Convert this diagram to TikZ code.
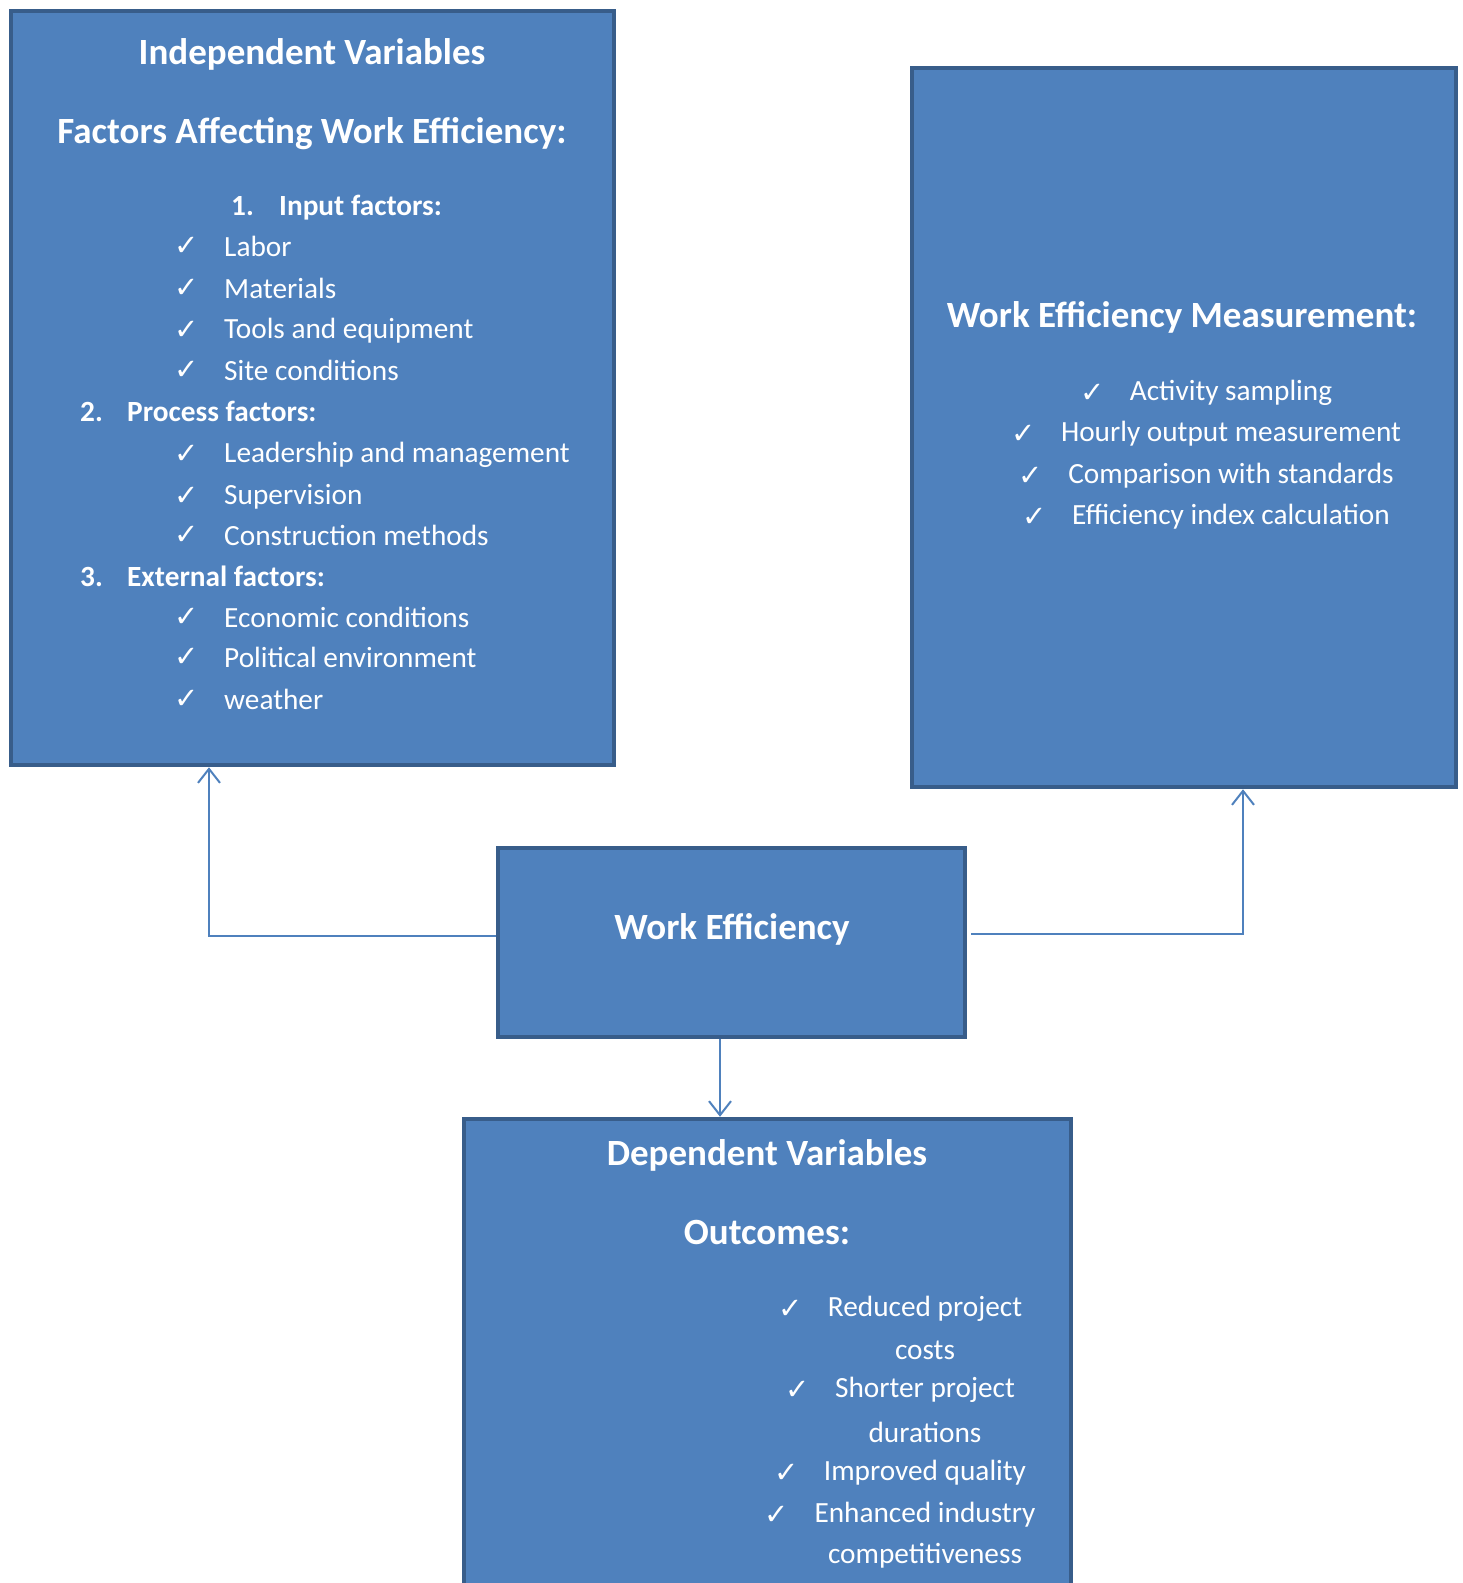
\documentclass[tikz,border=0pt]{standalone}
\usepackage{fontspec}
\setmainfont{Carlito}
\newfontfamily\symfont{DejaVu Sans}
\usepackage{tikz}
\usetikzlibrary{positioning,arrows.meta}

\definecolor{boxfill}{HTML}{4F81BD}
\definecolor{boxline}{HTML}{385D8A}

\tikzset{
  box/.style={draw=boxline, fill=boxfill, line width=4.5pt, inner sep=0pt},
  txt/.style={text=white, font=\fontsize{29.3}{35}\selectfont, inner sep=0pt},
  bold/.style={txt, font=\fontsize{29.3}{35}\selectfont\bfseries},
  head/.style={text=white, font=\fontsize{37}{44}\selectfont\bfseries, inner sep=0pt},
  tick/.style={text=white, font=\symfont\fontsize{29}{34}\selectfont, inner sep=0pt},
  link/.style={draw=boxfill, line width=2pt, -{Straight Barb[length=14pt,width=22pt,line width=2pt]}}
}

\begin{document}
\begin{tikzpicture}[x=1pt,y=-1pt]
  \useasboundingbox (0,0) rectangle (1463,1583);
  \clip (0,0) rectangle (1463,1583);
  % boxes
  \node[box, minimum width=603pt, minimum height=754pt] (indep)   at (312.5,388)  {};
  \node[box, minimum width=544pt, minimum height=719pt] (measure) at (1184,427.5) {};
  \node[box, minimum width=467pt, minimum height=189pt] (effic)   at (731.5,942.5) {};
  \node[box, minimum width=607pt, minimum height=520pt] (outcome) at (767.5,1379) {};

  % independent variables
  \node[head] (indep_t) at (312,54) {Independent Variables};
  \node[head] (indep_f) at (312,134) {Factors Affecting Work Efficiency:};
  \node[bold, anchor=mid west] (n_1) at (231,213) {1.};
  \node[bold, anchor=mid west] (input) at (279,213) {Input factors:};
  \node[txt, anchor=mid west] (labor) at (224,254) {Labor};
  \node[txt, anchor=mid west] (mat)   at (224,296) {Materials};
  \node[txt, anchor=mid west] (tools) at (224,336) {Tools and equipment};
  \node[txt, anchor=mid west] (site)  at (224,378) {Site conditions};
  \node[bold, anchor=mid west] (n_2) at (80,419) {2.};
  \node[bold, anchor=mid west] (process) at (127,419) {Process factors:};
  \node[txt, anchor=mid west] (lead)  at (224,460) {Leadership and management};
  \node[txt, anchor=mid west] (superv) at (224,502) {Supervision};
  \node[txt, anchor=mid west] (constr) at (224,543) {Construction methods};
  \node[bold, anchor=mid west] (n_3) at (80,584) {3.};
  \node[bold, anchor=mid west] (extern) at (127,584) {External factors:};
  \node[txt, anchor=mid west] (econ)  at (224,625) {Economic conditions};
  \node[txt, anchor=mid west] (polit) at (224,665) {Political environment};
  \node[txt, anchor=mid west] (weath) at (224,707) {weather};
  \node[tick, left=25pt of labor] {✓};
  \node[tick, left=25pt of mat] {✓};
  \node[tick, left=25pt of tools] {✓};
  \node[tick, left=25pt of site] {✓};
  \node[tick, left=25pt of lead] {✓};
  \node[tick, left=25pt of superv] {✓};
  \node[tick, left=25pt of constr] {✓};
  \node[tick, left=25pt of econ] {✓};
  \node[tick, left=25pt of polit] {✓};
  \node[tick, left=25pt of weath] {✓};

  % measurement
  \node[head] (measure_t) at (1182,317) {Work Efficiency Measurement:};
  \node[txt] (act)   at (1231,393) {Activity sampling};
  \node[txt] (hour)  at (1231,434) {Hourly output measurement};
  \node[txt] (comp)  at (1231,476) {Comparison with standards};
  \node[txt] (index) at (1231,517) {Efficiency index calculation};
  \node[tick, left=25pt of act] {✓};
  \node[tick, left=25pt of hour] {✓};
  \node[tick, left=25pt of comp] {✓};
  \node[tick, left=25pt of index] {✓};

  % centre
  \node[head] (effic_t) at (732,929) {Work Efficiency};

  % dependent variables
  \node[head] (dep_t) at (767,1155) {Dependent Variables};
  \node[head] (dep_o) at (767,1232) {Outcomes:};
  \node[txt] (cost)  at (925,1309) {Reduced project};
  \node[txt] (cost2) at (925,1350) {costs};
  \node[txt] (short) at (925,1390) {Shorter project};
  \node[txt] (short2) at (925,1432) {durations};
  \node[txt] (qual)  at (925,1473) {Improved quality};
  \node[txt] (comp_i) at (925,1515) {Enhanced industry};
  \node[txt] (comp_i2) at (925,1556) {competitiveness};
  \node[tick, left=25pt of cost] {✓};
  \node[tick, left=25pt of short] {✓};
  \node[tick, left=25pt of qual] {✓};
  \node[tick, left=25pt of comp_i] {✓};

  % connectors
  \draw[link] ([yshift=7pt]effic.west) -| ([xshift=-103.5pt]indep.south);
  \draw[link] ([xshift=4pt,yshift=9pt]effic.east) -| ([xshift=59pt]measure.south);
  \draw[link] ([xshift=-11.5pt]effic.south) -- ([xshift=-11.5pt]effic.south |- outcome.north);
\end{tikzpicture}
\end{document}
